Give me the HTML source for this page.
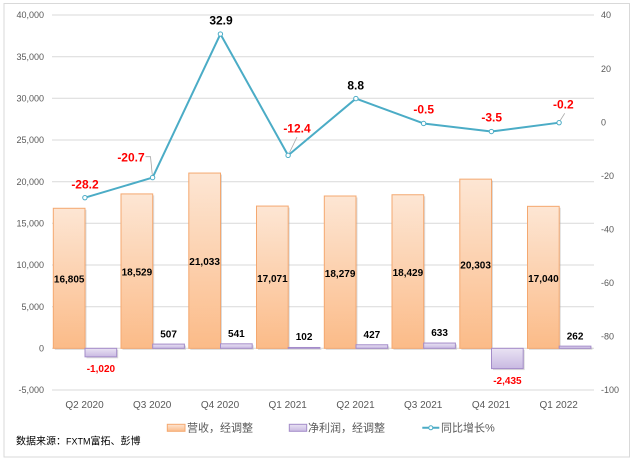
<!DOCTYPE html>
<html>
<head>
<meta charset="utf-8">
<style>
  html,body{margin:0;padding:0;background:#fff;}
  svg{display:block;}
  text{font-family:"Liberation Sans","Noto Sans CJK SC",sans-serif;}
</style>
</head>
<body>
<svg width="635" height="462" viewBox="0 0 635 462" xmlns="http://www.w3.org/2000/svg">
  <defs>
    <linearGradient id="gOr" x1="0" y1="0" x2="0" y2="1">
      <stop offset="0" stop-color="#fde6d4"/>
      <stop offset="1" stop-color="#fbbb88"/>
    </linearGradient>
    <linearGradient id="gPu" x1="0" y1="0" x2="0" y2="1">
      <stop offset="0" stop-color="#e9e3f3"/>
      <stop offset="1" stop-color="#c9b9e2"/>
    </linearGradient>
  </defs>
  <rect x="0" y="0" width="635" height="462" fill="#fff"/>
  <rect x="4" y="3.5" width="625.5" height="453.5" fill="none" stroke="#d9d9d9" stroke-width="1"/>

  <!-- gridlines -->
  <g stroke="#d9d9d9" stroke-width="1">
    <line x1="52" x2="594" y1="15" y2="15"/>
    <line x1="52" x2="594" y1="56.7" y2="56.7"/>
    <line x1="52" x2="594" y1="98.3" y2="98.3"/>
    <line x1="52" x2="594" y1="140" y2="140"/>
    <line x1="52" x2="594" y1="181.7" y2="181.7"/>
    <line x1="52" x2="594" y1="223.3" y2="223.3"/>
    <line x1="52" x2="594" y1="265" y2="265"/>
    <line x1="52" x2="594" y1="306.7" y2="306.7"/>
    <line x1="52" x2="594" y1="348.3" y2="348.3"/>
    <line x1="52" x2="594" y1="390" y2="390"/>
  </g>

  <!-- left axis labels -->
  <g font-size="9" fill="#595959" text-anchor="end">
    <text x="44" y="18.2">40,000</text>
    <text x="44" y="59.9">35,000</text>
    <text x="44" y="101.5">30,000</text>
    <text x="44" y="143.2">25,000</text>
    <text x="44" y="184.9">20,000</text>
    <text x="44" y="226.5">15,000</text>
    <text x="44" y="268.2">10,000</text>
    <text x="44" y="309.9">5,000</text>
    <text x="44" y="351.5">0</text>
    <text x="44" y="393.2">-5,000</text>
  </g>
  <!-- right axis labels -->
  <g font-size="9" fill="#595959" text-anchor="start">
    <text x="601" y="18.2">40</text>
    <text x="601" y="71.8">20</text>
    <text x="601" y="125.3">0</text>
    <text x="601" y="178.9">-20</text>
    <text x="601" y="232.5">-40</text>
    <text x="601" y="286.1">-60</text>
    <text x="601" y="339.6">-80</text>
    <text x="601" y="393.2">-100</text>
  </g>

  <!-- bar shadows -->
  <g fill="#b0b0b0" opacity="0.45">
    <rect x="54.8" y="209.8" width="31.7" height="140.04"/>
    <rect x="122.5" y="195.4" width="31.7" height="154.41"/>
    <rect x="190.3" y="174.6" width="31.7" height="175.28"/>
    <rect x="258" y="207.6" width="31.7" height="142.26"/>
    <rect x="325.8" y="197.5" width="31.7" height="152.33"/>
    <rect x="393.5" y="196.3" width="31.7" height="153.58"/>
    <rect x="461.3" y="180.6" width="31.7" height="169.19"/>
    <rect x="529" y="207.8" width="31.7" height="142"/>
    <rect x="86.5" y="349.8" width="31.7" height="8.5"/>
    <rect x="154.2" y="345.6" width="31.7" height="4.23"/>
    <rect x="222" y="345.3" width="31.7" height="4.51"/>
    <rect x="289.7" y="349" width="31.7" height="0.85"/>
    <rect x="357.5" y="346.3" width="31.7" height="3.56"/>
    <rect x="425.2" y="344.5" width="31.7" height="5.28"/>
    <rect x="493" y="349.8" width="31.7" height="20.29"/>
    <rect x="560.7" y="347.6" width="31.7" height="2.18"/>
  </g>

  <!-- revenue bars -->
  <g fill="url(#gOr)" stroke="#f4a870" stroke-width="1">
    <rect x="53.3" y="208.29" width="31.7" height="140.04"/>
    <rect x="121" y="193.92" width="31.7" height="154.41"/>
    <rect x="188.8" y="173.05" width="31.7" height="175.28"/>
    <rect x="256.5" y="206.07" width="31.7" height="142.26"/>
    <rect x="324.3" y="196.0" width="31.7" height="152.33"/>
    <rect x="392" y="194.75" width="31.7" height="153.58"/>
    <rect x="459.8" y="179.14" width="31.7" height="169.19"/>
    <rect x="527.5" y="206.33" width="31.7" height="142"/>
  </g>
  <!-- profit bars -->
  <g fill="url(#gPu)" stroke="#a48cc9" stroke-width="1">
    <rect x="85" y="348.33" width="31.7" height="8.5"/>
    <rect x="152.7" y="344.1" width="31.7" height="4.23"/>
    <rect x="220.5" y="343.82" width="31.7" height="4.51"/>
    <rect x="288.2" y="347.48" width="31.7" height="0.85"/>
    <rect x="356" y="344.77" width="31.7" height="3.56"/>
    <rect x="423.7" y="343.05" width="31.7" height="5.28"/>
    <rect x="491.5" y="348.33" width="31.7" height="20.29"/>
    <rect x="559.2" y="346.15" width="31.7" height="2.18"/>
  </g>

  <!-- revenue labels -->
  <g font-size="10" font-weight="bold" fill="#000" text-anchor="middle">
    <text x="69.2" y="282.6">16,805</text>
    <text x="136.9" y="275.3">18,529</text>
    <text x="204.6" y="265.2">21,033</text>
    <text x="272.4" y="281.8">17,071</text>
    <text x="340.1" y="276.8">18,279</text>
    <text x="407.9" y="276.1">18,429</text>
    <text x="475.6" y="268.3">20,303</text>
    <text x="543.4" y="281.9">17,040</text>
  </g>
  <!-- profit labels -->
  <g font-size="10" font-weight="bold" text-anchor="middle">
    <text x="100.9" y="371.8" fill="#ff0000">-1,020</text>
    <text x="168.6" y="337.3" fill="#000">507</text>
    <text x="236.4" y="337.1" fill="#000">541</text>
    <text x="304.1" y="340.2" fill="#000">102</text>
    <text x="371.9" y="338.2" fill="#000">427</text>
    <text x="439.6" y="336.2" fill="#000">633</text>
    <text x="507.4" y="384.2" fill="#ff0000">-2,435</text>
    <text x="575.1" y="339.5" fill="#000">262</text>
  </g>

  <!-- leader lines -->
  <g stroke="#a6a6a6" stroke-width="0.8" fill="none">
    <polyline points="145.5,156.7 150.5,156.7 152.3,175"/>
    <line x1="297" y1="137" x2="289.5" y2="152.5"/>
    <line x1="564.7" y1="113.3" x2="560.3" y2="120.3"/>
  </g>

  <!-- growth line -->
  <polyline fill="none" stroke="#4bacc6" stroke-width="2" stroke-linejoin="round"
    points="84.9,197.68 152.6,177.59 220.4,34.02 288.1,155.35 355.9,98.57 423.6,123.48 491.4,131.52 559.1,122.68"/>
  <g fill="#fff" stroke="#4bacc6" stroke-width="1">
    <circle cx="84.9" cy="197.68" r="2.2"/>
    <circle cx="152.6" cy="177.59" r="2.2"/>
    <circle cx="220.4" cy="34.02" r="2.2"/>
    <circle cx="288.1" cy="155.35" r="2.2"/>
    <circle cx="355.9" cy="98.57" r="2.2"/>
    <circle cx="423.6" cy="123.48" r="2.2"/>
    <circle cx="491.4" cy="131.52" r="2.2"/>
    <circle cx="559.1" cy="122.68" r="2.2"/>
  </g>

  <!-- growth labels -->
  <g font-size="12" font-weight="bold" text-anchor="middle">
    <text x="85" y="188.3" fill="#ff0000">-28.2</text>
    <text x="131" y="161.3" fill="#ff0000">-20.7</text>
    <text x="221" y="24.3" fill="#000">32.9</text>
    <text x="297" y="132.3" fill="#ff0000">-12.4</text>
    <text x="355.7" y="89.3" fill="#000">8.8</text>
    <text x="423.7" y="113.6" fill="#ff0000">-0.5</text>
    <text x="491.7" y="121.6" fill="#ff0000">-3.5</text>
    <text x="563.3" y="108.6" fill="#ff0000">-0.2</text>
  </g>

  <!-- x axis labels -->
  <g font-size="10" fill="#595959" text-anchor="middle">
    <text x="84.5" y="407.8">Q2 2020</text>
    <text x="152.2" y="407.8">Q3 2020</text>
    <text x="220" y="407.8">Q4 2020</text>
    <text x="287.7" y="407.8">Q1 2021</text>
    <text x="355.5" y="407.8">Q2 2021</text>
    <text x="423.2" y="407.8">Q3 2021</text>
    <text x="491" y="407.8">Q4 2021</text>
    <text x="558.7" y="407.8">Q1 2022</text>
  </g>

  <!-- legend -->
  <rect x="167.3" y="424.3" width="17.7" height="7" fill="url(#gOr)" stroke="#f4a870" stroke-width="1"/>
  <text x="187" y="431.6" font-size="11" fill="#595959">营收，经调整</text>
  <rect x="289.3" y="424.3" width="17.4" height="7" fill="url(#gPu)" stroke="#a48cc9" stroke-width="1"/>
  <text x="308" y="431.6" font-size="11" fill="#595959">净利润，经调整</text>
  <line x1="422.3" x2="439.3" y1="427.8" y2="427.8" stroke="#4bacc6" stroke-width="2"/>
  <circle cx="430.8" cy="427.8" r="2" fill="#fff" stroke="#4bacc6" stroke-width="1"/>
  <text x="441" y="431.6" font-size="11" fill="#595959">同比增长%</text>

  <!-- source -->
  <text x="16" y="444.3" font-size="10" fill="#000">数据来源：<tspan font-size="9">FXTM</tspan>富拓、彭博</text>
</svg>
</body>
</html>
